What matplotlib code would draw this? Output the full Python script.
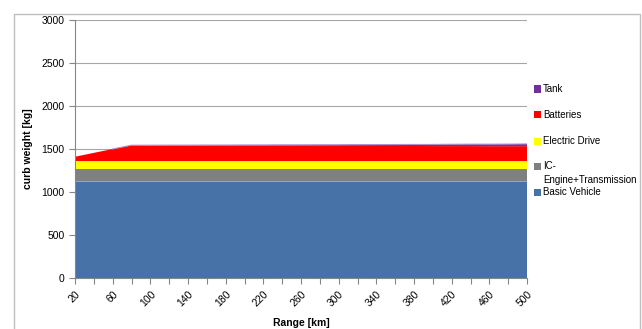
import numpy as np
import matplotlib.pyplot as plt
from matplotlib.patches import Rectangle

plt.rcParams['font.family'] = ['Liberation Sans', 'DejaVu Sans']

# range steps in km
ranges = [20, 40, 60, 80, 100, 120, 140, 160, 180, 200, 220, 240, 260,
          280, 300, 320, 340, 360, 380, 400, 420, 440, 460, 480, 500]

# mass components in kg, stacked bottom to top
basic_vehicle = [1125] * 25
ic_engine = [140] * 25
electric_drive = [95] * 25
batteries = [50, 95, 140, 182, 181, 181, 180, 180, 179, 179, 178, 178, 177,
             177, 176, 176, 175, 175, 175, 174, 174, 174, 173, 173, 173]
tank = [0, 0, 0, 2, 3, 4, 5, 6, 7, 8, 9, 10, 11,
        12, 13, 15, 16, 17, 18, 19, 21, 22, 23, 24, 26]

labels = ['Basic Vehicle', 'IC-\nEngine+Transmission', 'Electric Drive',
          'Batteries', 'Tank']
colors = ['#4672A8', '#808080', '#FFFF00', '#FF0000', '#7030A0']

fig = plt.figure(figsize=(6.42, 3.29), dpi=100)
ax = fig.add_axes([75 / 642, 1 - 278 / 329, 452 / 642, 258 / 329])

x = np.arange(len(ranges))
series = [basic_vehicle, ic_engine, electric_drive, batteries, tank]
ax.stackplot(x, *series, colors=colors, linewidth=0)

# light seam between basic vehicle and engine layers
ax.plot(x, basic_vehicle, color='#9DB3D0', lw=0.6)

# thin outline on top of the tank layer, only where the tank exists
top = np.sum(series, axis=0)
ax.plot(x[2:], top[2:], color='#B090D0', lw=0.8)

ax.set_xlim(0, len(ranges) - 1)
ax.set_ylim(0, 3000)
ax.set_yticks(range(0, 3001, 500))
ax.yaxis.grid(True, color='#A6A6A6', lw=0.8)
ax.set_axisbelow(True)

ax.set_xticks(x)
ax.set_xticklabels([str(r) if i % 2 == 0 else '' for i, r in enumerate(ranges)],
                   rotation=45, ha='right', rotation_mode='anchor', fontsize=7.5)
ax.tick_params(axis='y', labelsize=7.5, length=4, color='#868686')
ax.tick_params(axis='x', length=4, color='#868686', pad=4)
for side in ['top', 'right']:
    ax.spines[side].set_visible(False)
for side in ['left', 'bottom']:
    ax.spines[side].set_color('#868686')

ax.set_ylabel('curb weight [kg]', fontsize=7.5, fontweight='bold', labelpad=6)
ax.set_xlabel('Range [km]', fontsize=7.5, fontweight='bold', labelpad=7)

# legend drawn to the right of the plot
legend_y = [89, 115, 141, 166, 192]
for label, color, ly in zip(labels[::-1], colors[::-1], legend_y):
    fig.add_artist(Rectangle((534 / 642, 1 - (ly + 3.5) / 329), 7 / 642, 7 / 329,
                             transform=fig.transFigure, color=color, lw=0))
    if '\n' in label:
        first, second = label.split('\n')
        fig.text(543 / 642, 1 - ly / 329, first, fontsize=7, va='center')
        fig.text(543 / 642, 1 - (ly + 14) / 329, second, fontsize=7, va='center')
    else:
        fig.text(543 / 642, 1 - ly / 329, label, fontsize=7, va='center')

# outer chart frame
fig.add_artist(Rectangle((14 / 642, -0.05), 626 / 642, 1.05 - 14 / 329,
                         transform=fig.transFigure, fill=False,
                         edgecolor='#BFBFBF', lw=1))

fig.savefig('out.png', dpi=100)
